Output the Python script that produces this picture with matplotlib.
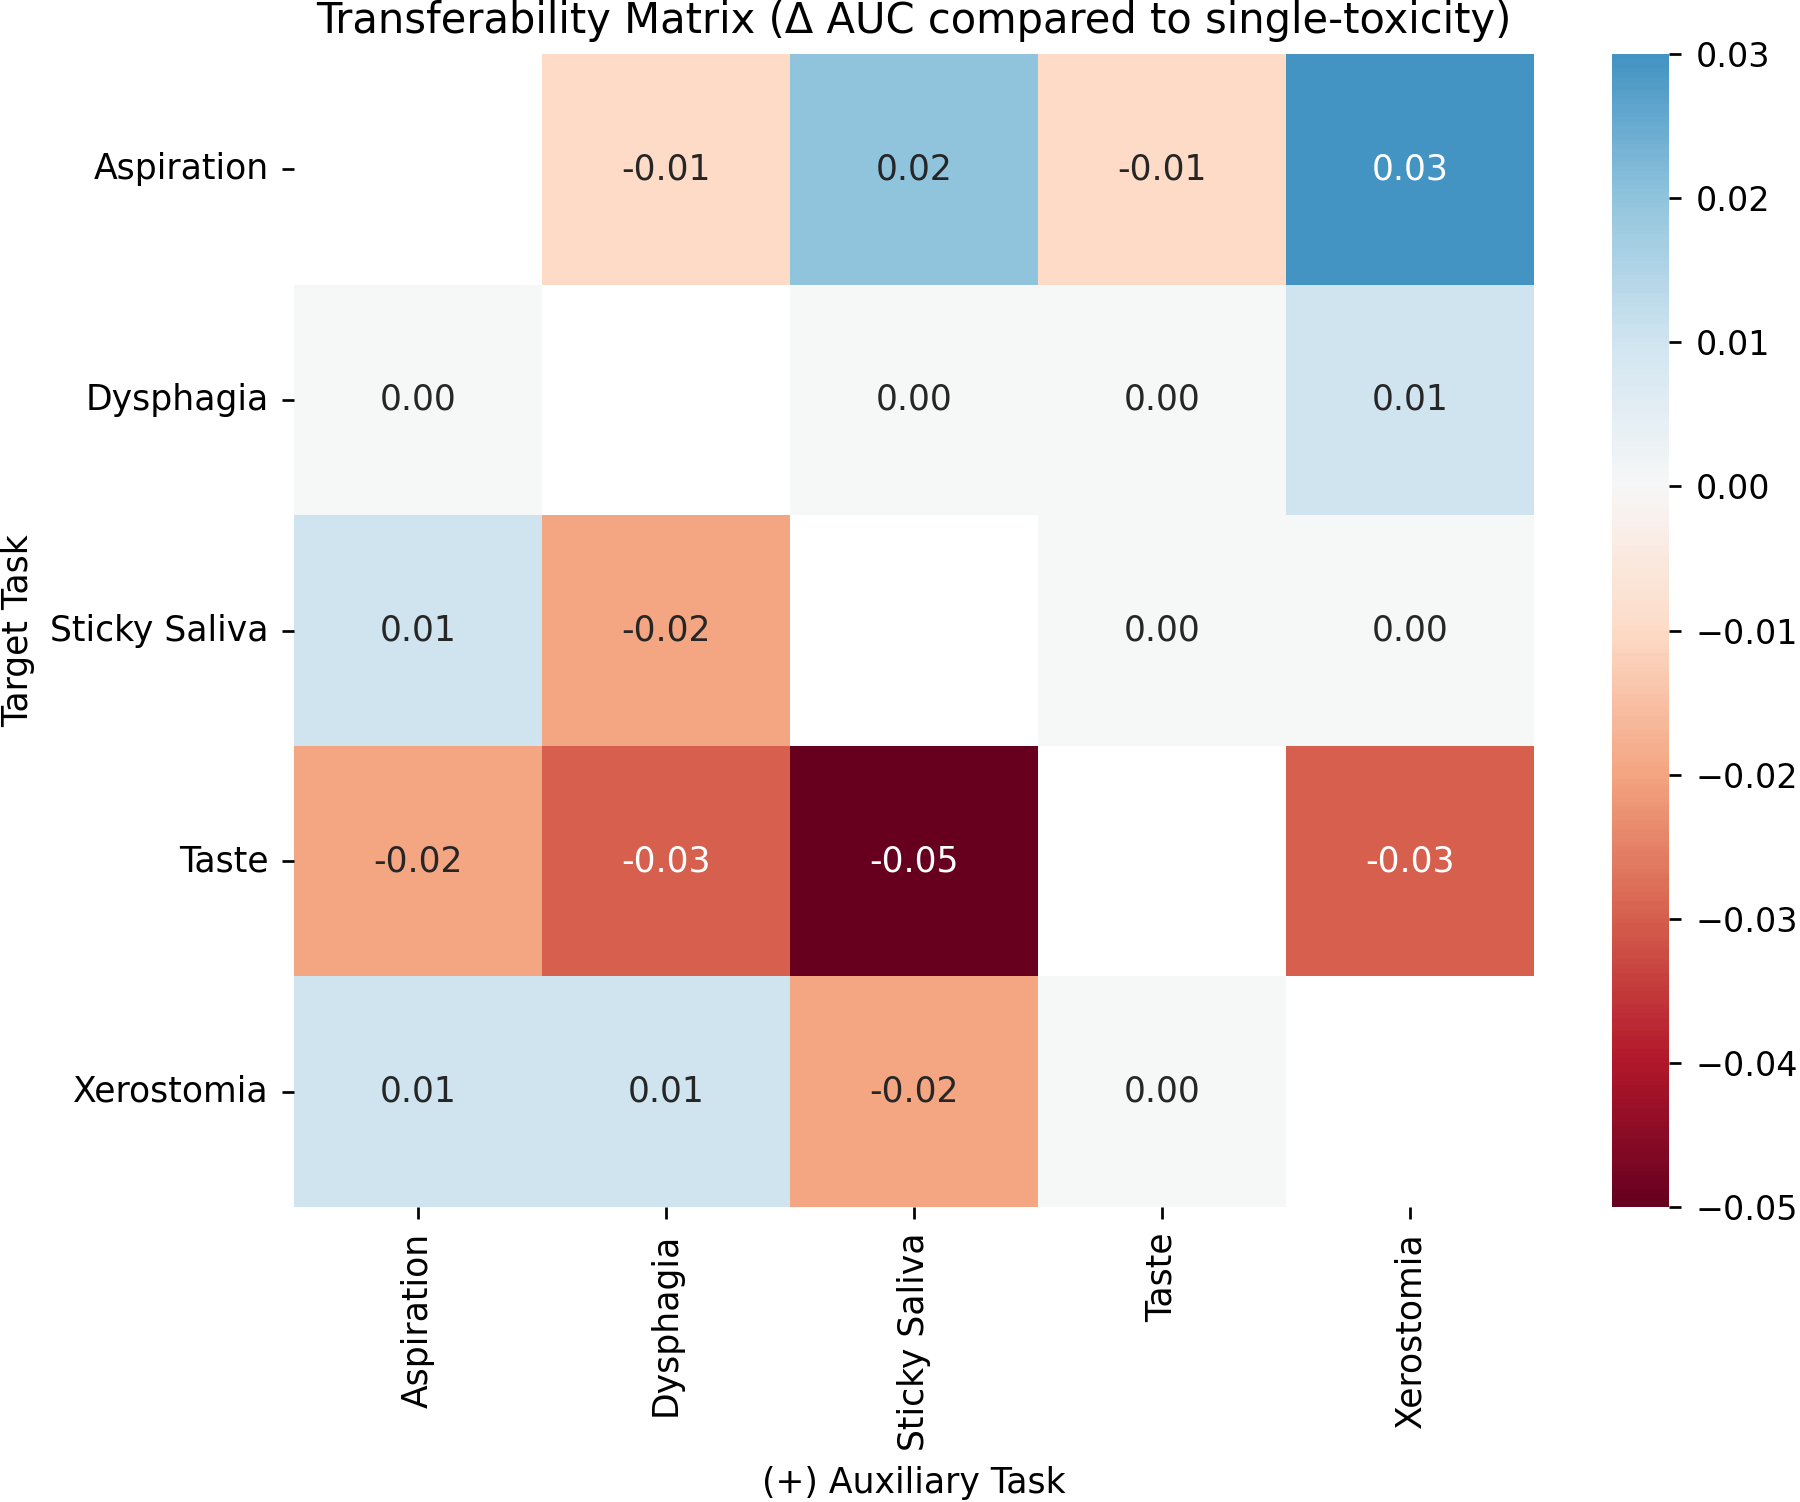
import numpy as np
import matplotlib
matplotlib.use("Agg")
import matplotlib.pyplot as plt
import seaborn as sns

tasks = ["Aspiration", "Dysphagia", "Sticky Saliva", "Taste", "Xerostomia"]
row_aspiration = [np.nan, -0.01, 0.02, -0.01, 0.03]
row_dysphagia = [0.00, np.nan, 0.00, 0.00, 0.01]
row_sticky = [0.01, -0.02, np.nan, 0.00, 0.00]
row_taste = [-0.02, -0.03, -0.05, np.nan, -0.03]
row_xerostomia = [0.01, 0.01, -0.02, 0.00, np.nan]
cbar_ticks = [0.03, 0.02, 0.01, 0.00, -0.01, -0.02, -0.03, -0.04, -0.05]

data = np.array([row_aspiration, row_dysphagia, row_sticky, row_taste, row_xerostomia])

W, H = 1800, 1502
fig = plt.figure(figsize=(W / 150, H / 150), dpi=150)
ax = fig.add_axes([294 / W, 1 - 1207 / H, (1534 - 294) / W, (1207 - 54) / H])
cax = fig.add_axes([1612 / W, 1 - 1207 / H, (1669 - 1612) / W, (1207 - 54) / H])

base = 16.6
sns.heatmap(data, ax=ax, cbar_ax=cax, cmap="RdBu", center=0,
            annot=True, fmt=".2f", annot_kws={"fontsize": base},
            xticklabels=tasks, yticklabels=tasks)

ax.set_title("Transferability Matrix (\u0394 AUC compared to single-toxicity)", fontsize=20, pad=10)
ax.set_xlabel("(+) Auxiliary Task", fontsize=base, labelpad=7)
ax.set_ylabel("Target Task", fontsize=base, labelpad=7)
ax.tick_params(axis="both", labelsize=base, length=5.8, width=1.3, pad=6.4)
plt.setp(ax.get_xticklabels(), rotation=90)
plt.setp(ax.get_yticklabels(), rotation=0)

cax.set_yticks(cbar_ticks)
cax.tick_params(labelsize=16, length=5.8, width=1.3, pad=7)

fig.savefig("out.png", dpi=150)
